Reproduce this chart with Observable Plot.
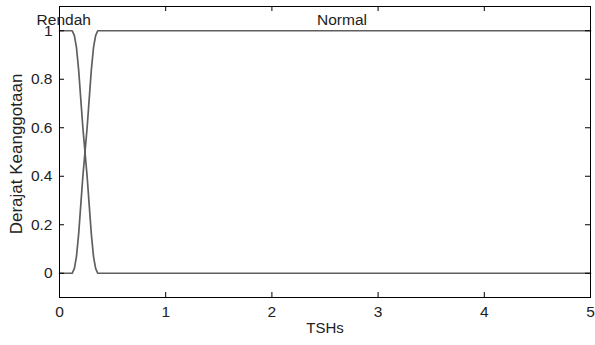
<!DOCTYPE html>
<html>
<head>
<meta charset="utf-8">
<script src="https://cdn.jsdelivr.net/npm/d3@7"></script>
<script src="https://cdn.jsdelivr.net/npm/@observablehq/plot@0.6"></script>
<style>
  html, body { margin: 0; padding: 0; background: #fff; }
  #chart svg { display: block; }
</style>
</head>
<body>
<div id="chart"></div>
<script>
// Membership function samples
const xs      = [0, 0.12, 0.14, 0.16, 0.18, 0.20, 0.22, 0.24, 0.26, 0.28, 0.30, 0.32, 0.34, 0.36, 5];
const rendah  = [1, 1,    0.98, 0.93, 0.84, 0.72, 0.60, 0.50, 0.40, 0.28, 0.16, 0.07, 0.02, 0,    0];
const normal  = [0, 0,    0.02, 0.07, 0.16, 0.28, 0.40, 0.50, 0.60, 0.72, 0.84, 0.93, 0.98, 1,    1];

const mfNames = ["Rendah", "Normal"];
const mfLabelX = [0.04, 2.66];
const mfLabelY = [1.046, 1.046];

const xTicks = [0, 1, 2, 3, 4, 5];
const yTicks = [0, 0.2, 0.4, 0.6, 0.8, 1];
const xDomain = [0, 5];
const yDomain = [-0.1, 1.1];
const xLabel = "TSHs";
const yLabel = "Derajat Keanggotaan";

const rows = [];
xs.forEach((x, i) => {
  rows.push({series: "Rendah", x, y: rendah[i]});
  rows.push({series: "Normal", x, y: normal[i]});
});
const labels = mfNames.map((name, i) => ({name, x: mfLabelX[i], y: mfLabelY[i]}));

const W = 595, H = 345, mL = 59, mR = 5, mT = 6, mB = 48, tick = 5;
const innerW = W - mL - mR, innerH = H - mT - mB;
const fmt = d3.format("~g");
const font = "Liberation Sans, Arial, sans-serif";
const chart = Plot.plot({
  width: W,
  height: H,
  marginLeft: mL,
  marginRight: mR,
  marginTop: mT,
  marginBottom: mB,
  style: {fontFamily: font, fontSize: "15px", color: "#222", background: "#fff"},
  x: {domain: xDomain, label: null},
  y: {domain: yDomain, label: null},
  marks: [
    Plot.line(rows, {x: "x", y: "y", z: "series", stroke: "#5f5f5f", strokeWidth: 1.7}),
    Plot.frame({stroke: "#000", strokeWidth: 1}),
    // tick labels
    Plot.axisX({anchor: "bottom", ticks: xTicks, tickSize: 0, tickPadding: 8, tickFormat: fmt, fontSize: 15.5, label: null}),
    Plot.axisY({anchor: "left", ticks: yTicks, tickSize: 0, tickPadding: 7, tickFormat: fmt, fontSize: 15.5, label: null}),
    // inward ticks on all sides
    Plot.tickX(xTicks, {x: d => d, insetTop: innerH - tick, stroke: "#000"}),
    Plot.tickX(xTicks, {x: d => d, insetBottom: innerH - tick, stroke: "#000"}),
    Plot.tickY(yTicks, {y: d => d, insetRight: innerW - tick, stroke: "#000"}),
    Plot.tickY(yTicks, {y: d => d, insetLeft: innerW - tick, stroke: "#000"}),
    // membership function names
    Plot.text(labels, {x: "x", y: "y", text: "name", fontSize: 15.5, fill: "#222"}),
    // axis titles
    Plot.text([xLabel], {frameAnchor: "bottom", dy: 35, text: d => d, fontSize: 15, fill: "#222"}),
    Plot.text([yLabel], {frameAnchor: "left", textAnchor: "middle", dx: -43, dy: 2, rotate: -90, text: d => d, fontSize: 17, fill: "#222"})
  ]
});
document.getElementById("chart").appendChild(chart);
</script>
</body>
</html>
